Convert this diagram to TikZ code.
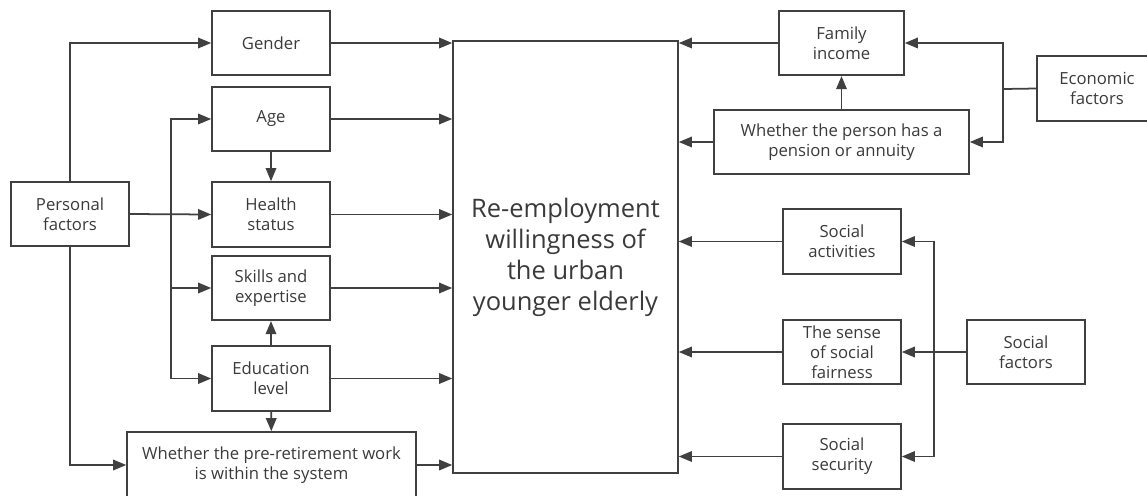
\documentclass[tikz,border=0pt]{standalone}
\usepackage{fontspec}
\setmainfont{Open Sans}
\usetikzlibrary{arrows.meta}

\definecolor{linegray}{RGB}{64,64,64}
\definecolor{textgray}{RGB}{58,58,58}

\tikzset{
    factor/.style={draw=linegray, line width=0.9pt, align=center, inner sep=0pt,
        text=textgray, font=\fontsize{9.5}{11.4}\selectfont,
        minimum width=2.36cm, minimum height=1.29cm},
    link/.style={draw=linegray, line width=1pt,
        -{Triangle[length=7.5pt,width=6pt]}},
    plain/.style={draw=linegray, line width=1pt}
}

\begin{document}
\begin{tikzpicture}[x=0.02cm, y=-0.02cm]
    \useasboundingbox (0,0) rectangle (1147,495);

    % outcome
    \node (main) at (565.5,257) [factor, minimum width=4.5cm, minimum height=8.64cm,
        font=\fontsize{14.5}{17.6}\selectfont]
        {Re-employment\\willingness of\\the urban\\younger elderly};

    % personal side
    \node (personal) at (70,214) [factor] {Personal\\factors};
    \node (gender) at (271,43) [factor] {Gender};
    \node (age) at (271,119) [factor] {Age};
    \node (health) at (271,214.5) [factor, minimum height=1.3cm] {Health\\status};
    \node (skills) at (271,288) [factor] {Skills and\\expertise};
    \node (edu) at (271,378.5) [factor, minimum height=1.3cm] {Education\\level};
    \node (work) at (271.5,465) [factor, minimum width=5.78cm, minimum height=1.32cm]
        {Whether the pre-retirement work\\is within the system};

    % economic side
    \node (income) at (841.5,43) [factor, minimum width=2.5cm] {Family\\income};
    \node (pension) at (841.5,142) [factor, minimum width=5.1cm]
        {Whether the person has a\\pension or annuity};
    \node (econ) at (1097,88.5) [factor, minimum width=2.4cm, minimum height=1.3cm]
        {Economic\\factors};

    % social side
    \node (activity) at (842,241.5) [factor, minimum height=1.3cm] {Social\\activities};
    \node (fair) at (842,352) [factor] {The sense\\of social\\fairness};
    \node (security) at (842,456.5) [factor, minimum height=1.3cm] {Social\\security};
    \node (social) at (1026,352) [factor] {Social\\factors};

    \coordinate (pbranch) at (171,214);
    \coordinate (ebranch) at (1003,89);
    \coordinate (sbranch) at (934,352);

    % personal factors
    \draw[link] (personal.north) |- (gender.west);
    \draw[link] (personal.east) -- (health.west);
    \draw[link] (personal.south) |- (work.west);
    \draw[link] (pbranch) |- (age.west);
    \draw[link] (pbranch) |- (skills.west);
    \draw[link] (pbranch) |- (edu.west);
    \draw[link] (age) -- (health);
    \draw[link] (edu) -- (skills);
    \draw[link] (edu) -- (work);

    \foreach \f in {gender, age, health, skills, edu, work}
        \draw[link] (\f.east) -- (\f.east -| main.west);

    % economic factors
    \draw[plain] (econ.west) -- (ebranch);
    \draw[link] (ebranch) |- (income.east);
    \draw[link] (ebranch) |- (pension.east);
    \draw[link] (pension) -- (income);

    % social factors
    \draw[link] (social.west) -- (fair.east);
    \draw[link] (sbranch) |- (activity.east);
    \draw[link] (sbranch) |- (security.east);

    \foreach \f in {income, pension, activity, fair, security}
        \draw[link] (\f.west) -- (\f.west -| main.east);
\end{tikzpicture}
\end{document}
